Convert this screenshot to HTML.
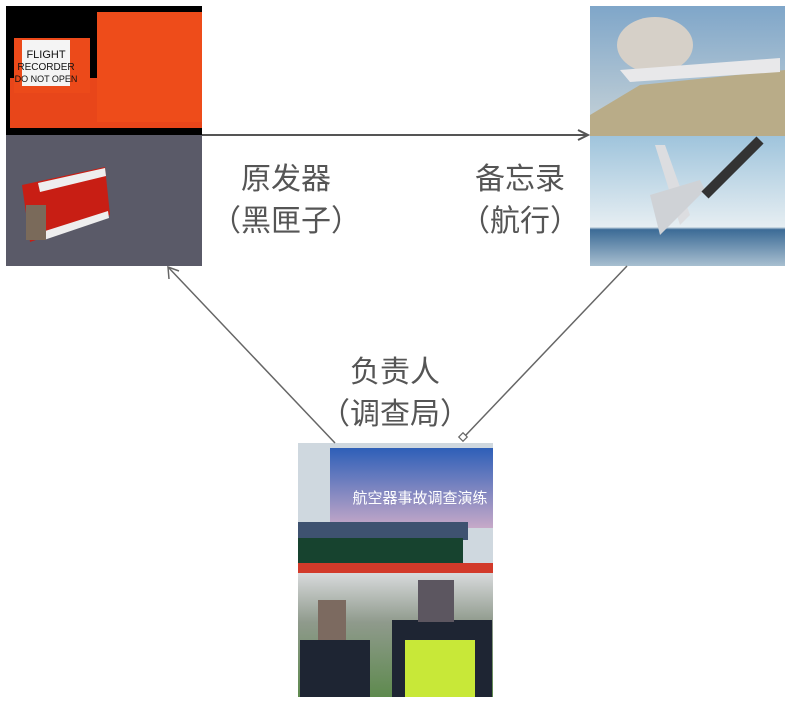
<!DOCTYPE html>
<html><head><meta charset="utf-8"><style>
html,body{margin:0;padding:0;background:#fff;width:791px;height:706px;overflow:hidden}
svg{display:block}
text{font-family:"Liberation Sans","Noto Sans CJK SC",sans-serif;fill:#555;font-size:30px}
</style></head><body>
<svg width="791" height="706" viewBox="0 0 791 706">
<defs>
<linearGradient id="sky" x1="0" y1="0" x2="0" y2="1"><stop offset="0" stop-color="#7fa6c9"/><stop offset="1" stop-color="#c9d4d8"/></linearGradient>
<linearGradient id="sky2" x1="0" y1="0" x2="0" y2="1"><stop offset="0" stop-color="#9fc4dc"/><stop offset="0.7" stop-color="#e6eef2"/><stop offset="0.72" stop-color="#3c6b96"/><stop offset="1" stop-color="#a8bfd0"/></linearGradient>
<linearGradient id="ban" x1="0" y1="0" x2="0" y2="1"><stop offset="0" stop-color="#2e5fb8"/><stop offset="1" stop-color="#c7a9c8"/></linearGradient>
<linearGradient id="fld" x1="0" y1="0" x2="0" y2="1"><stop offset="0" stop-color="#d8dadc"/><stop offset="0.4" stop-color="#8f9a8c"/><stop offset="1" stop-color="#5e8a4e"/></linearGradient>
</defs>
<!-- top-left image -->
<rect x="6" y="6" width="196" height="129" fill="#000"/>
<rect x="10" y="78" width="192" height="50" fill="#e8461a"/>
<rect x="14" y="38" width="76" height="55" fill="#ec4a1a"/>
<rect x="97" y="12" width="105" height="110" fill="#ee4c1a"/>
<rect x="22" y="40" width="48" height="46" fill="#f4f4f4"/>
<text x="46" y="58" font-size="10" text-anchor="middle" style="fill:#111;font-size:11px">FLIGHT</text>
<text x="46" y="70" style="fill:#111;font-size:10px" text-anchor="middle">RECORDER</text>
<text x="46" y="82" style="fill:#111;font-size:9px" text-anchor="middle">DO NOT OPEN</text>
<rect x="6" y="135" width="196" height="131" fill="#5a5a68"/>
<polygon points="22,185 105,167 110,215 30,242" fill="#c81e14"/>
<polygon points="38,183 105,168 106,176 40,192" fill="#eee"/>
<polygon points="42,232 108,211 109,218 44,240" fill="#eee"/>
<rect x="26" y="205" width="20" height="35" fill="#7a6a5a"/>
<!-- top-right image -->
<rect x="590" y="6" width="195" height="130" fill="url(#sky)"/>
<ellipse cx="655" cy="45" rx="38" ry="28" fill="#d6d0c8"/>
<polygon points="590,115 640,85 785,70 785,136 590,136" fill="#b9ac88"/>
<polygon points="620,70 780,58 780,72 630,82" fill="#e8e8ea"/>
<rect x="590" y="136" width="195" height="130" fill="url(#sky2)"/>
<polygon points="655,145 665,145 690,215 680,225" fill="#dcdde0"/>
<polygon points="650,195 700,180 705,190 660,235" fill="#cfd2d6"/>
<path d="M705,195 Q730,170 760,140" stroke="#333" stroke-width="10" fill="none"/>
<!-- bottom image -->
<rect x="298" y="443" width="195" height="130" fill="#cfd8df"/>
<rect x="330" y="448" width="163" height="80" fill="url(#ban)"/>
<text x="420" y="503" text-anchor="middle" style="fill:#fff;font-size:15px">航空器事故调查演练</text>
<rect x="298" y="522" width="170" height="18" fill="#3e5270"/>
<rect x="298" y="538" width="165" height="28" fill="#17432f"/>
<rect x="298" y="563" width="195" height="10" fill="#d23a2a"/>
<rect x="298" y="573" width="195" height="124" fill="url(#fld)"/>
<rect x="300" y="640" width="70" height="57" fill="#1e2533"/>
<rect x="318" y="600" width="28" height="40" fill="#7c6a60"/>
<rect x="392" y="620" width="100" height="77" fill="#1e2533"/>
<rect x="405" y="640" width="70" height="57" fill="#c8e838"/>
<rect x="418" y="580" width="36" height="42" fill="#5c5660"/>
<!-- connectors -->
<line x1="202" y1="135" x2="587" y2="135" stroke="#555" stroke-width="2"/>
<polyline points="578,130 588,135 578,140" fill="none" stroke="#555" stroke-width="2"/>
<line x1="335" y1="443" x2="168" y2="267" stroke="#666" stroke-width="1.5"/>
<polyline points="169,279 168,267 179,271" fill="none" stroke="#666" stroke-width="1.5"/>
<line x1="627" y1="266" x2="465" y2="436" stroke="#666" stroke-width="1.5"/>
<rect x="460" y="434" width="6" height="6" fill="#fff" stroke="#666" stroke-width="1.2" transform="rotate(-45 463 437)"/>
<!-- labels -->
<text x="286" y="189" text-anchor="middle">原发器</text>
<text x="286" y="231" text-anchor="middle">（黑匣子）</text>
<text x="520" y="189" text-anchor="middle">备忘录</text>
<text x="520" y="231" text-anchor="middle">（航行）</text>
<text x="395" y="382" text-anchor="middle">负责人</text>
<text x="395" y="424" text-anchor="middle">（调查局）</text>
</svg>
</body></html>
